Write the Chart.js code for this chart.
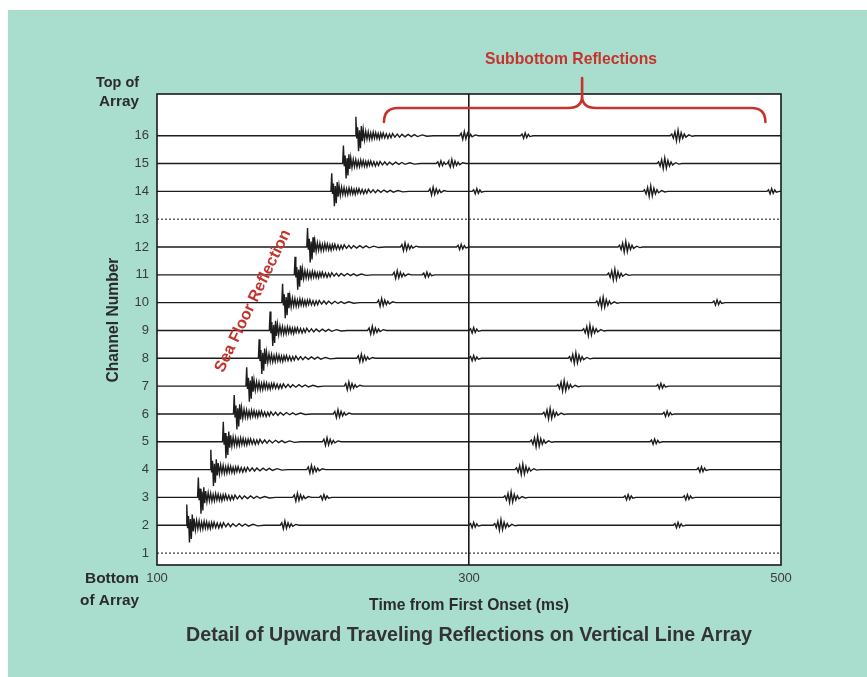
<!DOCTYPE html>
<html><head><meta charset="utf-8">
<script src="https://cdn.jsdelivr.net/npm/chart.js@4.4.1/dist/chart.umd.min.js"></script>
<style>html,body{margin:0;padding:0;background:#fff;}canvas{display:block}</style>
</head><body>
<canvas id="c" width="867" height="677"></canvas>
<script>
// ---------------- data ----------------
const channelNumbers = [1,2,3,4,5,6,7,8,9,10,11,12,13,14,15,16];
const xTickValues = [100, 300, 500];
const deadChannels = [1, 13];
// arrival times (ms) per channel 1..16 (null = dead channel)
const seaFloorTimes  = [null,118.6,126,134,142,149,157,165,172,180,188,196,null,211.5,219,227];
const multipleTimes  = [null,179,187,196,206,213,220,228,235,241,251,256,null,274,286,294];
const subbottomTimes = [null,315.5,322,329.5,339,347,356,363.5,372.5,381,388.5,395.5,null,411.5,420.5,429];
const minorEventTimes = [[],[300,431],[204,399,437],[446],[416],[424],[420],[300],[300],[456],[270],[292],[],[302,491],[279],[333]];
const seaFloorGain = [0,1.1,1.05,1.05,1.05,1,1,1,1,1,0.95,1,0,0.95,0.95,1];
// wavelet shapes (offset ms, amplitude in channel units)
const seaFloorOffsets = [0,0.5,1.0,1.6,2.2,2.8,3.4,4.0,4.6,5.2,6.0,6.8,7.6,8.4,9.2,10.0,10.8,11.6,12.4,13.2,14.0,14.8,15.6,16.4,17.2,18.0,19.0,20.0,21.0,22.0,23.0,24.0,25.5,27,28.5,30,32,34,36,38,40,43,46,50];
const seaFloorAmps    = [0,0.68,-0.1,0.3,-0.56,0.2,-0.45,0.35,-0.2,0.22,-0.15,0.16,-0.12,0.14,-0.13,0.1,-0.12,0.13,-0.09,0.11,-0.1,0.08,-0.11,0.09,-0.07,0.1,-0.08,0.07,-0.09,0.06,-0.07,0.08,-0.05,0.06,-0.05,0.05,-0.04,0.05,-0.03,0.04,-0.03,0.03,-0.02,0];
const multipleOffsets = [0,1,2,3,4,5,6,7,8,10,12];
const multipleAmps    = [0,0.09,-0.13,0.15,-0.11,0.09,-0.07,0.05,-0.04,0.03,0];
const subbottomOffsets = [0,1,2,3,4,5,6,7,8,9,10,12,14,16];
const subbottomAmps    = [0,0.06,-0.09,0.14,-0.18,0.2,-0.16,0.11,-0.09,0.06,-0.05,0.03,-0.02,0];
const minorOffsets = [0,1,2,3,4,5,6,8];
const minorAmps    = [0,0.06,-0.09,0.1,-0.07,0.05,-0.03,0];

// ---------------- build datasets ----------------
function addWavelet(pts, t0, offs, amps, gain, ch){
  for(let i=0;i<offs.length;i++) pts.push({x:t0+offs[i], y:ch+amps[i]*gain});
}
const datasets = [];
channelNumbers.forEach((ch,i)=>{
  if(deadChannels.includes(ch)){
    datasets.push({data:[{x:100,y:ch},{x:500,y:ch}],borderColor:'#3a3a3a',borderWidth:1.2,borderDash:[2,2]});
    return;
  }
  const pts=[{x:100,y:ch}];
  addWavelet(pts, seaFloorTimes[i], seaFloorOffsets, seaFloorAmps, seaFloorGain[i], ch);
  addWavelet(pts, multipleTimes[i], multipleOffsets, multipleAmps, 1, ch);
  addWavelet(pts, subbottomTimes[i], subbottomOffsets, subbottomAmps, 1, ch);
  minorEventTimes[i].forEach(t=>addWavelet(pts, t, minorOffsets, minorAmps, 1, ch));
  pts.push({x:500,y:ch});
  pts.sort((a,b)=>a.x-b.x);
  datasets.push({data:pts,borderColor:'#1c1c1c',borderWidth:1.4});
});

// ---------------- decorations ----------------
const FONT='"Liberation Sans", Arial, Helvetica, sans-serif';
const RED='#c4342d';
const TXT='#2b2b2b';
function fitFont(ctx,text,target,weight){
  ctx.font=weight+' 20px '+FONT;
  const w=ctx.measureText(text).width;
  const s=20*target/w;
  ctx.font=weight+' '+s.toFixed(2)+'px '+FONT;
}
const deco={
  id:'deco',
  beforeDraw(chart){
    const c=chart.ctx, a=chart.chartArea;
    c.save();
    c.fillStyle='#ffffff';c.fillRect(0,0,867,677);
    c.fillStyle='#a9ddce';c.fillRect(8,10,859,667);
    c.fillStyle='#ffffff';c.fillRect(a.left,a.top,a.right-a.left,a.bottom-a.top);
    c.restore();
  },
  afterDraw(chart){
    const c=chart.ctx, a=chart.chartArea, xs=chart.scales.x;
    c.save();
    c.strokeStyle='#1a1a1a';c.lineWidth=1.6;
    c.strokeRect(a.left,a.top,a.right-a.left,a.bottom-a.top);
    // side labels
    c.fillStyle=TXT;c.textBaseline='middle';
    c.textAlign='right';
    fitFont(c,'Top of',43,'bold');c.fillText('Top of',139,83);
    fitFont(c,'Array',40,'bold');c.fillText('Array',139,102);
    fitFont(c,'Bottom',54,'bold');c.fillText('Bottom',139,579);
    fitFont(c,'of Array',59,'bold');c.fillText('of Array',139,601);
    c.textAlign='center';
    fitFont(c,'Time from First Onset (ms)',200,'bold');c.fillText('Time from First Onset (ms)',469,606);
    c.fillStyle='#333333';
    fitFont(c,'Detail of Upward Traveling Reflections on Vertical Line Array',566,'bold');
    c.fillText('Detail of Upward Traveling Reflections on Vertical Line Array',469,636);
    c.fillStyle=TXT;
    c.save();c.translate(114,320);c.rotate(-Math.PI/2);
    fitFont(c,'Channel Number',125,'bold');c.fillText('Channel Number',0,0);c.restore();
    // red annotations
    c.fillStyle=RED;
    fitFont(c,'Subbottom Reflections',172,'bold');c.fillText('Subbottom Reflections',571,60);
    c.save();c.translate(253,301);c.rotate(Math.atan2(-144,69));
    fitFont(c,'Sea Floor Reflection',156,'bold');c.fillText('Sea Floor Reflection',0,0);c.restore();
    // brace
    const L=xs.getPixelForValue(245.5), M=xs.getPixelForValue(372.5), R=xs.getPixelForValue(490);
    c.strokeStyle=RED;c.lineWidth=2.6;c.lineCap='round';
    c.beginPath();
    c.moveTo(L,122);c.quadraticCurveTo(L,108,L+14,108);c.lineTo(M-14,108);c.quadraticCurveTo(M,108,M,96);c.lineTo(M,78);
    c.moveTo(M,96);c.quadraticCurveTo(M,108,M+14,108);c.lineTo(R-14,108);c.quadraticCurveTo(R,108,R,122);
    c.stroke();
    c.restore();
  }
};

new Chart(document.getElementById('c'),{
  type:'line',
  data:{datasets},
  options:{
    responsive:false,animation:false,devicePixelRatio:1,
    layout:{padding:{left:100,right:86,top:94,bottom:82}},
    elements:{point:{radius:0},line:{tension:0,fill:false}},
    plugins:{legend:{display:false},tooltip:{enabled:false}},
    scales:{
      x:{type:'linear',min:100,max:500,
        afterBuildTicks:s=>{s.ticks=xTickValues.map(v=>({value:v}));},
        afterFit:s=>{s.height=30;},
        border:{display:false},
        grid:{drawTicks:false,lineWidth:1.6,color:ctx=>(ctx.tick&&ctx.tick.value===300)?'#1a1a1a':'rgba(0,0,0,0)'},
        ticks:{padding:6,color:'#3a3a3a',font:{family:FONT,size:13},maxRotation:0}
      },
      y:{type:'linear',min:0.57,max:17.5,
        afterBuildTicks:s=>{s.ticks=channelNumbers.map(v=>({value:v}));},
        afterFit:s=>{s.width=57;},
        border:{display:false},
        grid:{display:false,drawTicks:false},
        ticks:{padding:8,color:'#3a3a3a',font:{family:FONT,size:13}}
      }
    }
  },
  plugins:[deco]
});
</script>
</body></html>
